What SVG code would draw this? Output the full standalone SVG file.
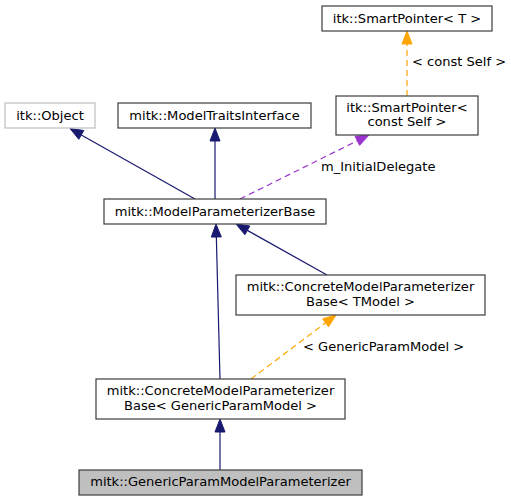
<svg xmlns="http://www.w3.org/2000/svg" width="511" height="501" viewBox="0 0 511 501">
<style>
text{font-family:"DejaVu Sans",sans-serif;font-size:13.05px;fill:#000}
.n text{text-anchor:middle}
.box{fill:#fff;stroke:#3c3c3c;stroke-width:1.2}
.e{fill:none;stroke-width:1.2}
.inh{stroke:#191970}
.inhh{fill:#191970;stroke:#191970}
.pur{stroke:#9a32cd;stroke-dasharray:6,4}
.purh{fill:#9a32cd;stroke:#9a32cd}
.org{stroke:#ffa500;stroke-dasharray:6,4}
.orgh{fill:#ffa500;stroke:#ffa500}
</style>
<rect width="511" height="501" fill="#fff"/>
<g id="connectors">
<line class="e inh" x1="195" y1="199" x2="81.3" y2="134.9"/>
<polygon class="inhh" points="70,128.5 83.8,130.5 78.8,139.3"/>
<line class="e inh" x1="215" y1="199" x2="215" y2="141"/>
<polygon class="inhh" points="215,128 220,141 210,141"/>
<line class="e pur" x1="240" y1="199" x2="357.35" y2="140.77"/>
<polygon class="purh" points="369,135 359.6,145.3 355.1,136.3"/>
<text x="321" y="171">m_InitialDelegate</text>
<line class="e org" x1="407" y1="96" x2="407" y2="44"/>
<polygon class="orgh" points="407,31 412,44 402,44"/>
<text x="412" y="66">&lt; const Self &gt;</text>
<line class="e inh" x1="327" y1="275" x2="247.34" y2="230.36"/>
<polygon class="inhh" points="236,224 249.8,226 244.9,234.7"/>
<line class="e inh" x1="220" y1="379" x2="216.34" y2="237"/>
<polygon class="inhh" points="216,224 221.3,236.9 211.3,237.1"/>
<line class="e org" x1="251" y1="379" x2="325.6" y2="322.8"/>
<polygon class="orgh" points="336,315 328.6,326.8 322.6,318.8"/>
<text x="303" y="351">&lt; GenericParamModel &gt;</text>
<line class="e inh" x1="220" y1="470" x2="220" y2="432"/>
<polygon class="inhh" points="220,419 225,432 215,432"/>
</g>
<g id="spT" class="n"><rect class="box" x="322" y="6" width="170" height="25"/><text x="407" y="23">itk::SmartPointer&lt; T &gt;</text></g>
<g id="itkObject" class="n"><rect class="box" style="stroke:#bfbfbf" x="5" y="103" width="90" height="25"/><text x="50" y="120">itk::Object</text></g>
<g id="modelTraits" class="n"><rect class="box" x="118" y="103" width="193" height="25"/><text x="214.5" y="120">mitk::ModelTraitsInterface</text></g>
<g id="spConstSelf" class="n"><rect class="box" x="336" y="96" width="142" height="39"/><text x="407" y="112">itk::SmartPointer&lt;</text><text x="407" y="126">const Self &gt;</text></g>
<g id="mpb" class="n"><rect class="box" x="104" y="199" width="222" height="25"/><text x="215" y="216">mitk::ModelParameterizerBase</text></g>
<g id="cmpbT" class="n"><rect class="box" x="236" y="275" width="249" height="40"/><text x="360.5" y="291">mitk::ConcreteModelParameterizer</text><text x="360.5" y="306">Base&lt; TModel &gt;</text></g>
<g id="cmpbG" class="n"><rect class="box" x="96" y="379" width="249" height="40"/><text x="220.5" y="395">mitk::ConcreteModelParameterizer</text><text x="220.5" y="410">Base&lt; GenericParamModel &gt;</text></g>
<g id="generic" class="n"><rect class="box" style="fill:#bfbfbf" x="79" y="470" width="283" height="25"/><text x="220.5" y="486">mitk::GenericParamModelParameterizer</text></g>
</svg>
